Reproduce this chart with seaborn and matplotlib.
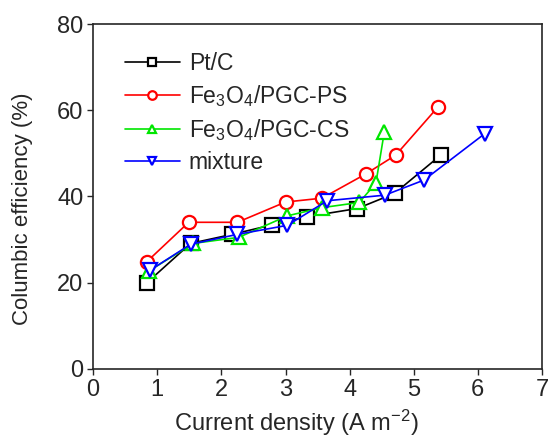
import pandas as pd
import seaborn as sns
import matplotlib
matplotlib.use("Agg")
import matplotlib.pyplot as plt

# data
ptc_x = [0.84, 1.52, 2.17, 2.79, 3.33, 4.12, 4.70, 5.43]
ptc_y = [20.0, 29.1, 31.2, 33.4, 35.3, 37.2, 40.7, 49.7]

ps_x = [0.84, 1.49, 2.25, 3.00, 3.57, 4.25, 4.72, 5.38]
ps_y = [24.9, 34.0, 34.0, 38.7, 39.6, 45.2, 49.6, 60.8]

cs_x = [0.87, 1.56, 2.27, 3.03, 3.57, 4.15, 4.41, 4.54]
cs_y = [22.7, 29.1, 30.5, 35.5, 37.4, 38.6, 43.1, 54.9]

mix_x = [0.89, 1.52, 2.25, 3.03, 3.65, 4.55, 5.16, 6.11]
mix_y = [22.9, 28.9, 31.2, 33.3, 39.0, 40.3, 43.8, 54.6]

labels = ["Pt/C", "Fe$_3$O$_4$/PGC-PS", "Fe$_3$O$_4$/PGC-CS", "mixture"]
colors = ["black", "#ff0000", "#00e600", "#0000ff"]
markers = ["s", "o", "^", "v"]
x_ticks = [0, 1, 2, 3, 4, 5, 6, 7]
y_ticks = [0, 20, 40, 60, 80]

frames = []
for lab, xs, ys in zip(labels, [ptc_x, ps_x, cs_x, mix_x], [ptc_y, ps_y, cs_y, mix_y]):
    frames.append(pd.DataFrame({"x": xs, "y": ys, "sample": lab}))
df = pd.concat(frames, ignore_index=True)

sns.set_style("ticks")
plt.rcParams["font.family"] = ["Liberation Sans", "DejaVu Sans"]
plt.rcParams["mathtext.fontset"] = "custom"
plt.rcParams["mathtext.rm"] = "Liberation Sans"
plt.rcParams["mathtext.it"] = "Liberation Sans"

fig = plt.figure(figsize=(5.48, 4.38), dpi=100)
ax = fig.add_axes([0.170, 0.158, 0.819, 0.787])

for lab, col, mk in zip(labels, colors, markers):
    sns.lineplot(data=df[df["sample"] == lab], x="x", y="y",
                 color=col, marker=mk, markersize=9.5,
                 markerfacecolor="white", markeredgecolor=col,
                 markeredgewidth=1.6, linewidth=1.2,
                 estimator=None, sort=True, label=lab, ax=ax)

ax.set_xlim(0, 7)
ax.set_ylim(0, 80)
ax.set_xticks(x_ticks)
ax.set_yticks(y_ticks)
ax.tick_params(direction="out", length=4, width=1, labelsize=17, pad=3,
               top=False, right=False)
for sp in ax.spines.values():
    sp.set_visible(True)
    sp.set_linewidth(1.2)

ax.set_xlabel("Current density (A m$^{-2}$)", fontsize=17)
ax.xaxis.set_label_coords(0.452, -0.112)
ax.set_ylabel("Columbic efficiency (%)", fontsize=16)
ax.yaxis.set_label_coords(-0.135, 0.465)

ax.legend(loc="upper left", frameon=False, fontsize=16.5, markerscale=0.65,
          numpoints=1, handlelength=2.4, handletextpad=0.4, labelspacing=0.35,
          borderaxespad=0, bbox_to_anchor=(0.05, 0.945))

fig.savefig("out.png", dpi=100)
